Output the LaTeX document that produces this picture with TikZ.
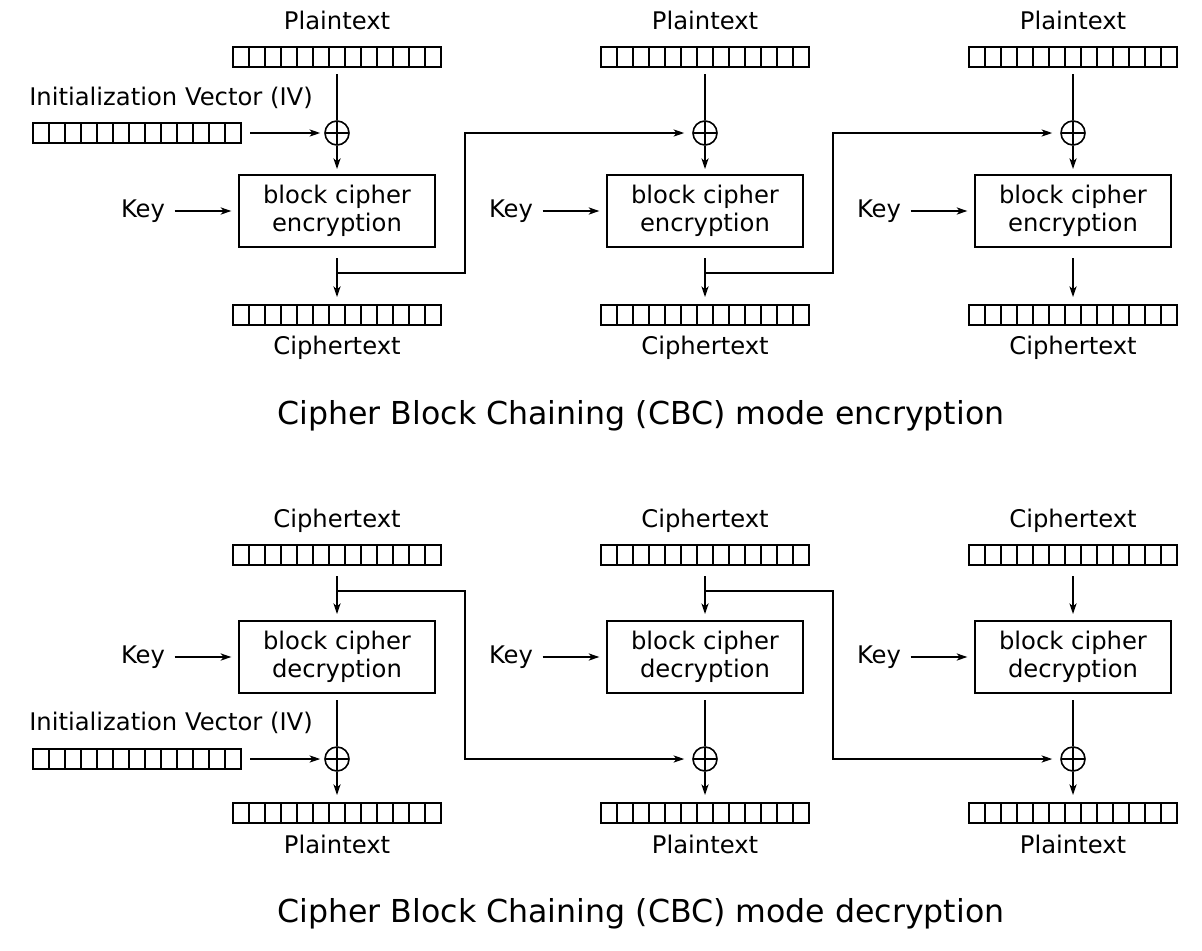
\documentclass[tikz,border=0pt]{standalone}
\usepackage{fontspec}
\setmainfont{DejaVu Sans}
\usetikzlibrary{arrows.meta}
\tikzset{
  strip/.style={draw, line width=1.5pt, minimum width=156pt, minimum height=15pt, inner sep=0pt,
    path picture={\foreach \k in {1,...,12}{\draw[line width=1.4pt] ([xshift=\k*12pt]path picture bounding box.south west) -- ([xshift=\k*12pt]path picture bounding box.north west);}}},
  cipherbox/.style={draw, line width=1.5pt, minimum width=147pt, minimum height=54pt, align=center, inner sep=0pt, font=\fontsize{18.2}{21}\selectfont},
  xorop/.style={draw, circle, line width=1.2pt, minimum size=18pt, inner sep=0pt,
    path picture={\draw[line width=1.2pt] (path picture bounding box.north) -- (path picture bounding box.south) (path picture bounding box.west) -- (path picture bounding box.east);}},
  lbl/.style={font=\fontsize{18.2}{21}\selectfont, inner sep=0pt},
  ttl/.style={font=\fontsize{23.7}{28}\selectfont, inner sep=0pt},
  conn/.style={line width=1.2pt, -{Stealth[length=8pt, width=5.4pt, inset=2.2pt]}},
  plainline/.style={line width=1.2pt},
}
\begin{document}
\begin{tikzpicture}[x=0.75pt, y=-0.75pt]
\useasboundingbox (0,0) rectangle (1202,950);
% ---------------- Encryption ----------------
\foreach \i in {0,1,2}{
  \pgfmathsetmacro\cx{337+368*\i}
  \pgfmathsetmacro\kx{143+368*\i}
  \node[lbl] (ep\i) at (\cx,20) {Plaintext};
  \node[strip] (eps\i) at (\cx,57) {};
  \node[xorop] (ex\i) at (\cx,133) {};
  \node[cipherbox] (eb\i) at (\cx,211) {block cipher\\encryption};
  \node[lbl] (ek\i) at (\kx,211) {Key};
  \node[strip] (ecs\i) at (\cx,315) {};
  \node[lbl] (ec\i) at (\cx,348) {Ciphertext};
  \coordinate (efb\i) at (\cx,273);
  \draw[plainline, shorten <=4.5pt] (eps\i) -- (ex\i);
  \draw[conn, shorten >=3.75pt] (ex\i) -- (eb\i);
  \draw[conn, shorten <=7.5pt, shorten >=5.25pt] (eb\i) -- (ecs\i);
  \draw[conn, shorten <=7pt, shorten >=5pt] (ek\i) -- (eb\i);
}
\node[lbl] (eivl) at (171,98) {Initialization Vector (IV)};
\node[strip] (eiv) at (137,133) {};
\draw[conn, shorten <=6pt, shorten >=3pt] (eiv) -- (ex0);
\coordinate (eturn0) at (465,133);
\coordinate (eturn1) at (833,133);
\draw[conn, shorten >=6pt] (efb0) -| (eturn0) -- (ex1);
\draw[conn, shorten >=6pt] (efb1) -| (eturn1) -- (ex2);
\node[ttl] (etitle) at (641,416) {Cipher Block Chaining (CBC) mode encryption};
% ---------------- Decryption ----------------
\foreach \i in {0,1,2}{
  \pgfmathsetmacro\cx{337+368*\i}
  \pgfmathsetmacro\kx{143+368*\i}
  \node[lbl] (dc\i) at (\cx,521) {Ciphertext};
  \node[strip] (dcs\i) at (\cx,555) {};
  \node[cipherbox] (db\i) at (\cx,657) {block cipher\\decryption};
  \node[lbl] (dk\i) at (\kx,657) {Key};
  \node[xorop] (dx\i) at (\cx,759) {};
  \node[strip] (dps\i) at (\cx,813) {};
  \node[lbl] (dp\i) at (\cx,844) {Plaintext};
  \coordinate (dfb\i) at (\cx,591);
  \draw[conn, shorten <=7.5pt, shorten >=4.5pt] (dcs\i) -- (db\i);
  \draw[plainline, shorten <=4.5pt] (db\i) -- (dx\i);
  \draw[conn, shorten >=5.25pt] (dx\i) -- (dps\i);
  \draw[conn, shorten <=7pt, shorten >=5pt] (dk\i) -- (db\i);
}
\node[lbl] (divl) at (171,723) {Initialization Vector (IV)};
\node[strip] (div) at (137,759) {};
\draw[conn, shorten <=6pt, shorten >=3pt] (div) -- (dx0);
\coordinate (dturn0) at (465,759);
\coordinate (dturn1) at (833,759);
\draw[conn, shorten >=6pt] (dfb0) -| (dturn0) -- (dx1);
\draw[conn, shorten >=6pt] (dfb1) -| (dturn1) -- (dx2);
\node[ttl] (dtitle) at (641,914) {Cipher Block Chaining (CBC) mode decryption};
\end{tikzpicture}
\end{document}
